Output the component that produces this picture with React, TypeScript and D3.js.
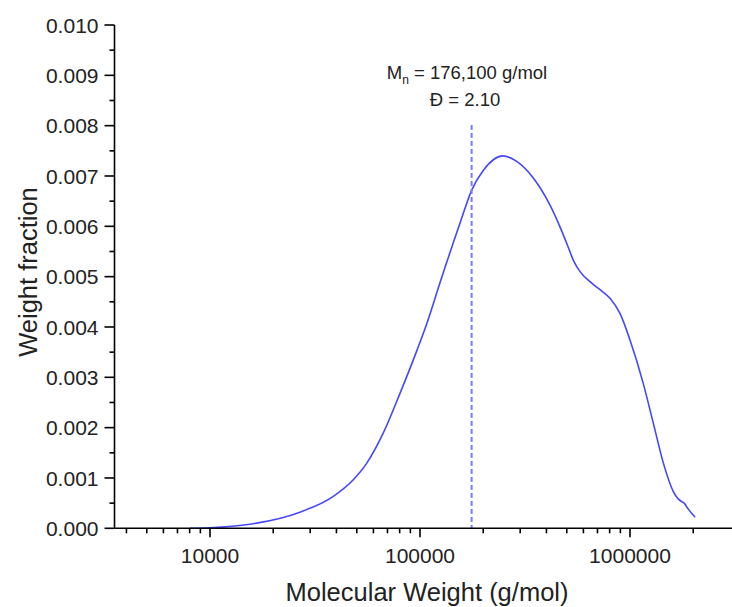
import React from "react";
import * as d3 from "d3";

const molecularWeight = [
  8030, 10000, 15500, 26800, 38500, 48000, 55700, 66800, 80300, 96400, 108000,
  124500, 155000, 176300, 200000, 248000, 288700, 346400, 416000, 464000,
  500000, 537000, 578000, 645000, 720000, 803000, 896000, 1000000, 1156000,
  1291000, 1443000, 1608000, 1700000, 1762000, 1820000, 1880000, 2042000,
];
const weightFraction = [
  0.0, 0.00001, 0.00008, 0.00032, 0.00063, 0.00096, 0.00129, 0.00189, 0.00268,
  0.00352, 0.00408, 0.00488, 0.00606, 0.00672, 0.00711, 0.0074, 0.00729,
  0.00696, 0.00642, 0.00599, 0.00566, 0.00533, 0.0051, 0.0049, 0.00474,
  0.00457, 0.00427, 0.00374, 0.00288, 0.00209, 0.00129, 0.00073, 0.00058,
  0.00053, 0.00049, 0.0004, 0.00022,
];
const yTicks = [0, 0.001, 0.002, 0.003, 0.004, 0.005, 0.006, 0.007, 0.008, 0.009, 0.01];
const xMajorTicks = [10000, 100000, 1000000];
const mnValue = 176100;
const annotationLine1 = " = 176,100 g/mol";
const annotationLine2 = "Đ = 2.10";
const xTitle = "Molecular Weight (g/mol)";
const yTitle = "Weight fraction";

export default function App() {
  const W = 732, H = 607;
  const x0 = 114.5, y0 = 528.3, yTop = 25;
  const decade = 210;
  const x = d3
    .scaleLog()
    .domain([Math.pow(10, 4 - (210 - x0) / decade), Math.pow(10, 4 + (734 - 210) / decade)])
    .range([x0, 734]);
  const y = d3.scaleLinear().domain([0, 0.01]).range([y0, yTop]);
  const xMinor: number[] = [];
  for (const base of [1000, 10000, 100000, 1000000]) {
    for (let m = 2; m <= 9; m++) {
      const v = m * base;
      if (v >= 4000 && v <= 2000000) xMinor.push(v);
    }
  }
  const yMinor = d3.range(0, 10).map((i) => 0.0005 + i * 0.001);
  const pts = molecularWeight.map((m, i) => [x(m), y(weightFraction[i])] as [number, number]);
  const line = d3.line().curve(d3.curveMonotoneX)(pts) || "";
  const font = "'Liberation Sans', Arial, sans-serif";
  const mnX = x(mnValue);
  return (
    <svg width={W} height={H} style={{ position: "absolute", left: 0, top: 0, background: "#fff" }} fontFamily={font}>
      <path d={line} fill="none" stroke="#4646ff" strokeWidth={1.6} />
      <line x1={mnX} x2={mnX} y1={125} y2={y0} stroke="#7a7aff" strokeWidth={2} strokeDasharray="5,3" />
      <line x1={x0} x2={x0} y1={yTop} y2={y0} stroke="#000" strokeWidth={1.6} />
      <line x1={x0} x2={W} y1={y0} y2={y0} stroke="#000" strokeWidth={1.6} />
      {yTicks.map((t) => (
        <g key={"y" + t}>
          <line x1={x0 - 10} x2={x0} y1={y(t)} y2={y(t)} stroke="#000" strokeWidth={1.6} />
          <text x={98.5} y={y(t)} dy="0.36em" textAnchor="end" fontSize={21} fill="#222">
            {t.toFixed(3)}
          </text>
        </g>
      ))}
      {yMinor.map((t) => (
        <line key={"ym" + t} x1={x0 - 5} x2={x0} y1={y(t)} y2={y(t)} stroke="#000" strokeWidth={1.6} />
      ))}
      {xMajorTicks.map((t) => (
        <g key={"x" + t}>
          <line x1={x(t)} x2={x(t)} y1={y0} y2={y0 + 9} stroke="#000" strokeWidth={1.6} />
          <text x={x(t)} y={562.5} textAnchor="middle" fontSize={21} fill="#222">
            {String(t)}
          </text>
        </g>
      ))}
      {xMinor.map((t) => (
        <line key={"xm" + t} x1={x(t)} x2={x(t)} y1={y0} y2={y0 + 5} stroke="#000" strokeWidth={1.6} />
      ))}
      <text x={427} y={601} textAnchor="middle" fontSize={25.5} fill="#222">
        {xTitle}
      </text>
      <text transform={`translate(37,272) rotate(-90)`} textAnchor="middle" fontSize={25.5} fill="#222">
        {yTitle}
      </text>
      <text x={467} y={78.5} textAnchor="middle" fontSize={18.5} fill="#222">
        M<tspan fontSize={12} dy={5}>n</tspan>
        <tspan dy={-5}>{annotationLine1}</tspan>
      </text>
      <text x={465} y={105.5} textAnchor="middle" fontSize={18.5} fill="#222">
        {annotationLine2}
      </text>
    </svg>
  );
}
